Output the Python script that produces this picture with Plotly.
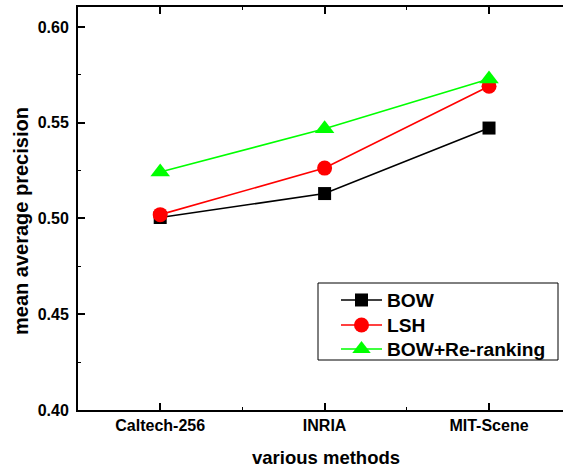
import plotly.graph_objects as go

categories = ["Caltech-256", "INRIA", "MIT-Scene"]
bow = [0.5005, 0.5130, 0.5472]
lsh = [0.5020, 0.5263, 0.5690]
bow_rerank = [0.5243, 0.5468, 0.5728]
y_ticks = [0.40, 0.45, 0.50, 0.55, 0.60]

xs = list(range(len(categories)))
FONT = "Liberation Sans, Arial, sans-serif"

fig = go.Figure()
fig.add_trace(go.Scatter(x=xs, y=bow, name="BOW", mode="lines+markers", legend="legend",
                         line=dict(color="#000000", width=1.6),
                         marker=dict(symbol="square", size=13, color="#000000")))
fig.add_trace(go.Scatter(x=xs, y=lsh, name="LSH", mode="lines+markers", legend="legend2",
                         line=dict(color="#FF0000", width=1.6),
                         marker=dict(symbol="circle", size=15, color="#FF0000")))
fig.add_trace(go.Scatter(x=xs, y=bow_rerank, name="BOW+Re-ranking", mode="lines+markers",
                         legend="legend3",
                         line=dict(color="#00FF00", width=1.6),
                         marker=dict(symbol="triangle-up", size=17, color="#00FF00")))

L, T, B = 78, 7, 60
W, H = 563, 470
pw = W - L
ph = H - T - B


def leg(row_y):
    return dict(x=(336 - L) / pw, y=(410 - row_y) / ph, xanchor="left", yanchor="middle",
                bgcolor="rgba(0,0,0,0)", borderwidth=0,
                font=dict(family=FONT, size=19.2, color="black", weight="bold"),
                itemwidth=41, tracegroupgap=0)


fig.update_layout(
    width=W, height=H,
    margin=dict(l=L, r=0, t=T, b=B, pad=0),
    paper_bgcolor="white", plot_bgcolor="white",
    font=dict(family=FONT, color="black"),
    showlegend=True,
    legend=leg(300), legend2=leg(325), legend3=leg(349),
    xaxis=dict(range=[-0.5, 2.45], tickmode="array", tickvals=xs, ticktext=categories,
               showline=True, linecolor="black", linewidth=2, mirror="ticks",
               ticks="inside", ticklen=7, tickwidth=1.5, tickcolor="black",
               minor=dict(dtick=0.5, tick0=0, ticks="inside", ticklen=3, tickwidth=1, tickcolor="black"),
               showgrid=False, zeroline=False,
               tickfont=dict(family=FONT, size=16, color="black", weight="bold")),
    yaxis=dict(range=[0.40, 0.6104], tickmode="array", tickvals=y_ticks,
               ticktext=[f"{v:.2f}" for v in y_ticks],
               showline=True, linecolor="black", linewidth=2,
               ticks="inside", ticklen=7, tickwidth=1.5, tickcolor="black", ticklabelstandoff=4,
               minor=dict(dtick=0.025, tick0=0.40, ticks="inside", ticklen=3, tickwidth=1, tickcolor="black"),
               showgrid=False, zeroline=False,
               tickfont=dict(family=FONT, size=16, color="black", weight="bold")),
    shapes=[dict(type="rect", xref="paper", yref="paper",
                 x0=(318 - L) / pw, x1=(558 - L) / pw,
                 y0=(410 - 360) / ph, y1=(410 - 283) / ph,
                 line=dict(color="black", width=1), fillcolor="rgba(0,0,0,0)")],
    annotations=[
        dict(text="various methods", xref="paper", yref="paper",
             x=(325.5 - L) / pw, y=(410 - 457) / ph, xanchor="center", yanchor="middle",
             showarrow=False, font=dict(family=FONT, size=18.5, color="black", weight="bold")),
        dict(text="mean average precision", xref="paper", yref="paper",
             x=(21 - L) / pw, y=(410 - 221) / ph, xanchor="center", yanchor="middle",
             textangle=-90, showarrow=False,
             font=dict(family=FONT, size=20, color="black", weight="bold")),
    ],
)

fig.write_html("out.html", config={"displayModeBar": False},
               post_script="document.body.style.margin='0px';")
